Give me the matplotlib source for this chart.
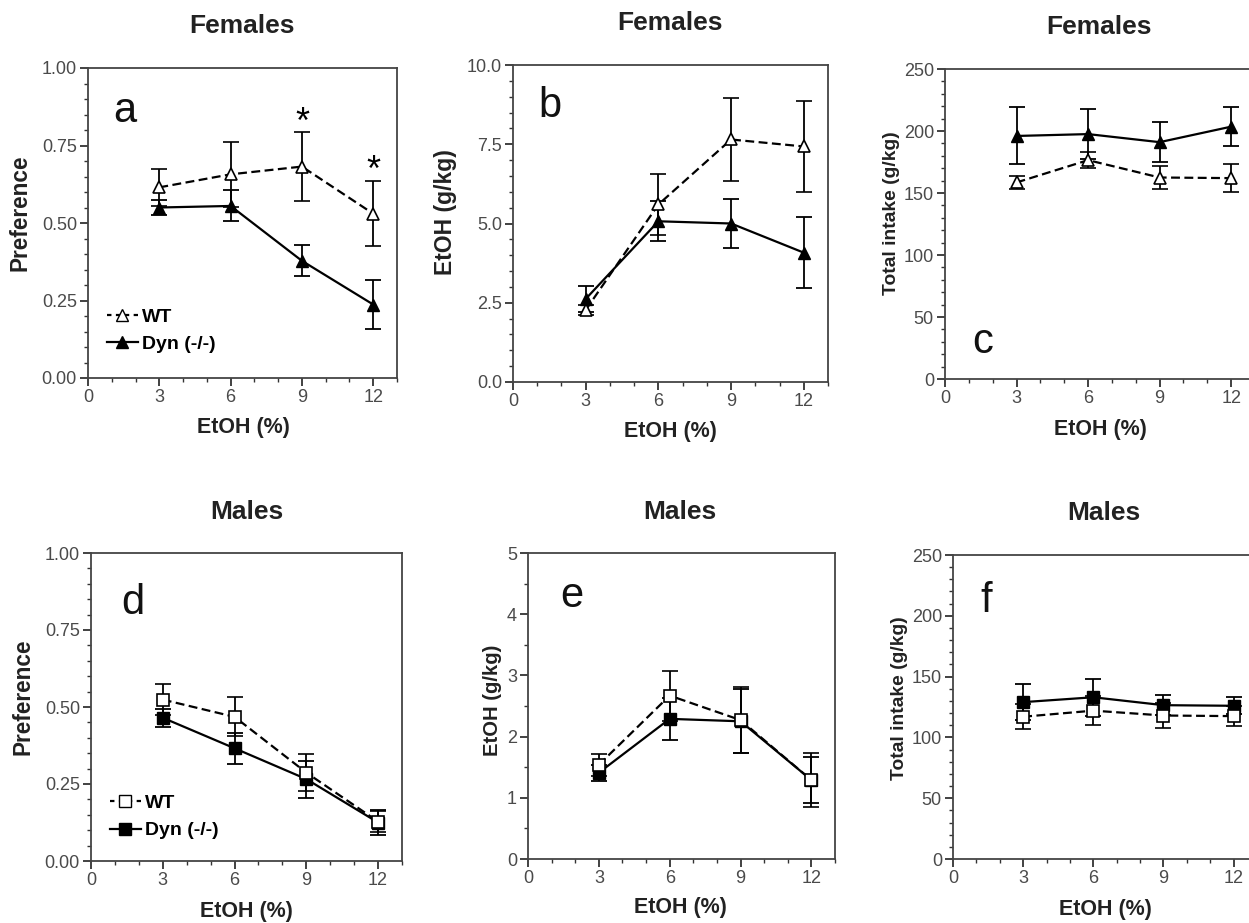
import numpy as np
import matplotlib.pyplot as plt
from matplotlib.lines import Line2D
from matplotlib.ticker import MultipleLocator

plt.rcParams['font.family'] = ['Liberation Sans', 'DejaVu Sans']

W, H = 1249, 923

conc = [3, 6, 9, 12]  # EtOH (%)

# females
fem_pref_wt = [0.615, 0.657, 0.682, 0.530]
fem_pref_wt_err = [0.06, 0.105, 0.11, 0.105]
fem_pref_dyn = [0.550, 0.555, 0.378, 0.237]
fem_pref_dyn_err = [0.025, 0.05, 0.05, 0.078]
fem_etoh_wt = [2.27, 5.60, 7.65, 7.43]
fem_etoh_wt_err = [0.15, 0.97, 1.3, 1.45]
fem_etoh_dyn = [2.62, 5.07, 5.00, 4.08]
fem_etoh_dyn_err = [0.42, 0.63, 0.78, 1.13]
fem_total_wt = [158.5, 176.5, 162.5, 162.0]
fem_total_wt_err = [5, 6.5, 9.5, 11]
fem_total_dyn = [196, 197.5, 191, 203.5]
fem_total_dyn_err = [23, 20, 16, 15.5]

# males
male_pref_wt = [0.524, 0.468, 0.287, 0.128]
male_pref_wt_err = [0.05, 0.063, 0.06, 0.035]
male_pref_dyn = [0.465, 0.366, 0.266, 0.125]
male_pref_dyn_err = [0.03, 0.05, 0.06, 0.04]
male_etoh_wt = [1.54, 2.67, 2.27, 1.29]
male_etoh_wt_err = [0.18, 0.41, 0.54, 0.44]
male_etoh_dyn = [1.41, 2.29, 2.25, 1.29]
male_etoh_dyn_err = [0.13, 0.34, 0.52, 0.37]
male_total_wt = [117, 122, 118, 117.5]
male_total_wt_err = [10.5, 12, 10, 8]
male_total_dyn = [129, 133, 126.5, 126]
male_total_dyn_err = [15, 15, 8, 7]

fig = plt.figure(figsize=(W/100, H/100), dpi=100)

def fx(x):
    return x / W

def fy(y):
    return 1 - y / H

def make_ax(l, r, t, b):
    return fig.add_axes([fx(l), fy(b), fx(r - l), (b - t) / H])

def style(ax, ymax, ymaj, ymin, fmt):
    ax.set_xlim(0, 13)
    ax.set_ylim(0, ymax)
    ax.xaxis.set_major_locator(MultipleLocator(3))
    ax.xaxis.set_minor_locator(MultipleLocator(1))
    ax.yaxis.set_major_locator(MultipleLocator(ymaj))
    ax.yaxis.set_minor_locator(MultipleLocator(ymin))
    ax.set_xticks([0, 3, 6, 9, 12])
    ax.yaxis.set_major_formatter(plt.FormatStrFormatter(fmt))
    ax.tick_params(which='major', direction='out', length=6, width=1.3,
                   labelsize=13, labelcolor='#4a4a4a', color='#333333', pad=2)
    ax.tick_params(which='minor', direction='out', length=3, width=1.0, color='#333333')
    ax.tick_params(top=False, right=False)
    for s in ax.spines.values():
        s.set_linewidth(1.3)
        s.set_color('#444444')

def draw(ax, wt, wt_err, dyn, dyn_err, mk, ms):
    ax.errorbar(conc, dyn, yerr=dyn_err, color='black', lw=1.6, marker=mk, ms=ms,
                mfc='black', mec='black', capsize=6, elinewidth=1.3, capthick=1.3, zorder=3)
    ax.errorbar(conc, wt, yerr=wt_err, color='black', lw=1.6, ls=(0, (4, 2)), marker=mk, ms=ms,
                mfc='white', mec='black', mew=1.2, capsize=6, elinewidth=1.3, capthick=1.3, zorder=4)

def legend(ax, mk, ms, x, y):
    h = [Line2D([], [], color='black', lw=1.6, ls=(0, (2, 2)), marker=mk, ms=ms, mfc='white', mec='black'),
         Line2D([], [], color='black', lw=1.6, marker=mk, ms=ms, mfc='black', mec='black')]
    ax.legend(h, ['WT', 'Dyn (-/-)'], loc='lower left', bbox_to_anchor=(x, y), frameon=False,
              prop={'weight': 'bold', 'size': 14}, handlelength=1.6, handletextpad=0.2,
              borderpad=0, borderaxespad=0, labelspacing=0.5)

axa = make_ax(88, 397, 68, 378)
axb = make_ax(513, 828, 65, 382)
axc = make_ax(945, 1255, 69, 379)
axd = make_ax(91, 402, 553, 861)
axe = make_ax(528, 835, 553, 859)
axf = make_ax(953, 1257, 555, 859)

style(axa, 1.0, 0.25, 0.05, '%.2f')
style(axb, 10.0, 2.5, 0.5, '%.1f')
style(axc, 250, 50, 10, '%d')
style(axd, 1.0, 0.25, 0.05, '%.2f')
style(axe, 5, 1, 0.5, '%d')
style(axf, 250, 50, 10, '%d')

draw(axa, fem_pref_wt, fem_pref_wt_err, fem_pref_dyn, fem_pref_dyn_err, '^', 8)
draw(axb, fem_etoh_wt, fem_etoh_wt_err, fem_etoh_dyn, fem_etoh_dyn_err, '^', 8)
draw(axc, fem_total_wt, fem_total_wt_err, fem_total_dyn, fem_total_dyn_err, '^', 8)
draw(axd, male_pref_wt, male_pref_wt_err, male_pref_dyn, male_pref_dyn_err, 's', 9)
draw(axe, male_etoh_wt, male_etoh_wt_err, male_etoh_dyn, male_etoh_dyn_err, 's', 9)
draw(axf, male_total_wt, male_total_wt_err, male_total_dyn, male_total_dyn_err, 's', 8)

legend(axa, '^', 8, 0.06, 0.08)
legend(axd, 's', 9, 0.06, 0.07)

# significance marks
axa.text(9, 0.82, '*', fontsize=26, ha='center', va='center')
axa.text(12, 0.665, '*', fontsize=26, ha='center', va='center')

# titles
for x, y, t in [(242, 26, 'Females'), (670, 23, 'Females'), (1099, 27, 'Females'),
                (247, 512, 'Males'), (680, 512, 'Males'), (1104, 513, 'Males')]:
    fig.text(fx(x), fy(y), t, fontsize=19, fontweight='bold', ha='center', va='center', color='#222222')

# x labels
for x, y in [(243, 428), (670, 431), (1100, 430), (246, 912), (680, 908), (1105, 910)]:
    fig.text(fx(x), fy(y), 'EtOH (%)', fontsize=15.5, fontweight='bold', ha='center', va='center', color='#222222')

# y labels
for x, y, t, s in [(20, 213, 'Preference', 16.3), (445, 212, 'EtOH (g/kg)', 16.5),
                   (891, 213, 'Total intake (g/kg)', 13.9), (23, 697, 'Preference', 16.3),
                   (492, 700, 'EtOH (g/kg)', 14.6), (899, 698, 'Total intake (g/kg)', 13.9)]:
    fig.text(fx(x), fy(y), t, fontsize=s, fontweight='bold', ha='center', va='center',
             rotation=90, color='#222222')

# panel letters
for x, y, t in [(125, 122, 'a'), (550, 117, 'b'), (983, 353, 'c'),
                (133, 614, 'd'), (572, 607, 'e'), (986, 612, 'f')]:
    fig.text(fx(x), fy(y), t, fontsize=30, ha='center', va='baseline', color='#111111')

plt.savefig('out.png', dpi=100)
